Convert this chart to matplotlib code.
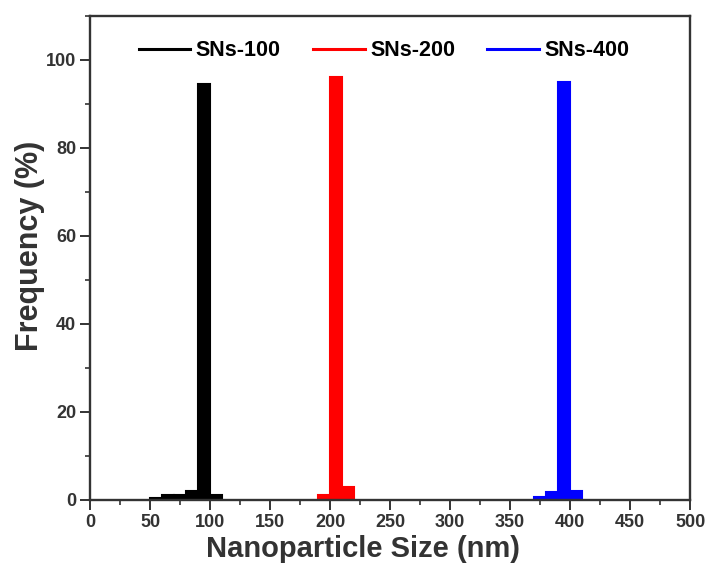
import matplotlib.pyplot as plt
from matplotlib.lines import Line2D
from matplotlib.ticker import MultipleLocator

plt.rcParams['font.family'] = ['Liberation Sans', 'DejaVu Sans']

# particle size bins (nm, bin centres) and frequency (%)
size_100 = [55, 65, 75, 85, 95, 105]
freq_100 = [0.5, 1.0, 1.0, 2.0, 94.5, 1.0]
size_200 = [195, 205, 215]
freq_200 = [1.0, 96.0, 3.0]
size_400 = [375, 385, 395, 405]
freq_400 = [0.7, 1.7, 95.0, 2.0]

labels = ['SNs-100', 'SNs-200', 'SNs-400']
colors = ['black', 'red', 'blue']

fig = plt.figure(figsize=(7.1, 5.66), dpi=100)
ax = fig.add_axes([0.127, 0.117, 0.845, 0.855])

for x, y, c in zip([size_100, size_200, size_400], [freq_100, freq_200, freq_400], colors):
    ax.bar(x, y, width=10, color=c, edgecolor=c, linewidth=1.5)

ax.set_xlim(0, 500)
ax.set_ylim(0, 110)
ax.xaxis.set_major_locator(MultipleLocator(50))
ax.xaxis.set_minor_locator(MultipleLocator(25))
ax.yaxis.set_major_locator(MultipleLocator(20))
ax.yaxis.set_minor_locator(MultipleLocator(10))
ax.tick_params(which='major', length=7, width=1.4, labelsize=13, colors='#333333', pad=3)
ax.tick_params(which='minor', length=3.5, width=1.2, colors='#333333')
for lab in ax.get_xticklabels() + ax.get_yticklabels():
    lab.set_fontweight('bold')
for s in ax.spines.values():
    s.set_linewidth(1.7)
    s.set_color('#333333')

ax.set_xlabel('Nanoparticle Size (nm)', fontsize=21, fontweight='bold', color='#333333', va='center')
ax.set_ylabel('Frequency (%)', fontsize=22, fontweight='bold', color='#333333', va='center')
ax.xaxis.set_label_coords(0.455, -0.101)
ax.yaxis.set_label_coords(-0.1, 0.525)

handles = [Line2D([], [], color=c, lw=2.2) for c in colors]
ax.legend(handles, labels, loc='upper center', ncol=3, frameon=False,
          prop={'weight': 'bold', 'size': 15.5}, handlelength=2.4, columnspacing=1.5,
          handletextpad=0.25, bbox_to_anchor=(0.49, 0.99))

fig.savefig('out.png', dpi=100)
